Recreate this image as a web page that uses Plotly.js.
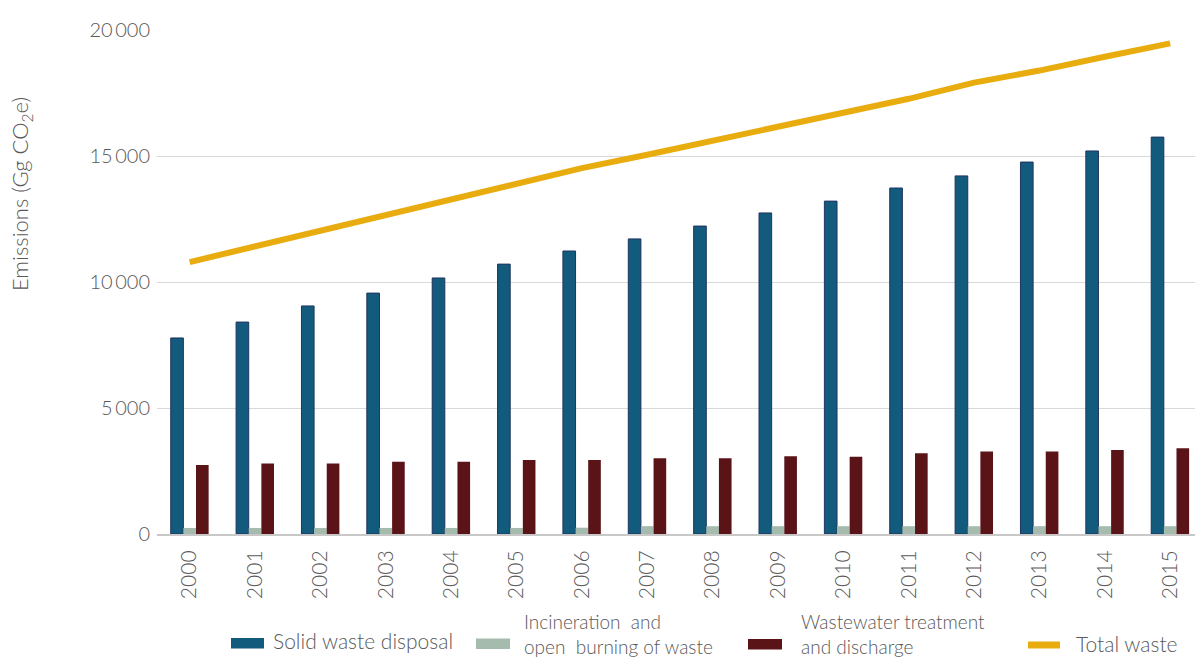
<!DOCTYPE html>
<html>
<head>
<meta charset="utf-8">
<script src="https://cdn.plot.ly/plotly-3.0.1.min.js"></script>
<style>html,body{margin:0;padding:0;background:#fff;}#chart{width:1195px;height:659px;}</style>
</head>
<body>
<div id="chart"></div>
<script>
const years = ["2000","2001","2002","2003","2004","2005","2006","2007","2008","2009","2010","2011","2012","2013","2014","2015"];
const solidWaste = [7780,8410,9050,9560,10160,10710,11230,11710,12220,12740,13210,13730,14210,14760,15200,15750];
const incineration = [240,240,240,240,240,240,250,310,310,310,310,310,310,310,310,310];
const wastewater = [2740,2800,2800,2870,2870,2940,2940,3010,3010,3090,3070,3200,3270,3270,3330,3400];
const totalWaste = [10790,11410,12050,12690,13330,13930,14520,15050,15610,16160,16730,17270,17910,18390,18940,19470];
const yTickVals = [0,5000,10000,15000,20000];
const yTickText = ["0","5\u2009000","10\u2009000","15\u2009000","20\u2009000"];
const seriesNames = ["Solid waste disposal","Incineration and open burning of waste","Wastewater treatment and discharge","Total waste"];
const legendLabels = ["Solid waste disposal","Incineration  and<br>open  burning of waste","Wastewater treatment<br>and discharge","Total waste"];
const colors = ["#135b7c","#a4bbae","#5a1418","#e8ac0f"];

const font = "Lato, 'Open Sans', sans-serif";
const grey = "#595959";
const M = {l:157, r:0, t:30, b:125}, W = 1195, H = 659;
const pw = W - M.l - M.r, ph = H - M.t - M.b;
const px = v => (v - M.l) / pw;
const py = v => (H - M.b - v) / ph;

const traces = [
  {type:"bar", name:seriesNames[0], x:years, y:solidWaste,
   marker:{color:colors[0], line:{color:"#1f3461", width:1}}},
  {type:"bar", name:seriesNames[1], x:years, y:incineration, marker:{color:colors[1]}},
  {type:"bar", name:seriesNames[2], x:years, y:wastewater, marker:{color:colors[2]}},
  {type:"scatter", mode:"lines", name:seriesNames[3], x:years, y:totalWaste,
   line:{color:colors[3], width:6}}
];

// Legend drawn by hand to match the reference layout
const legendSpec = [
  {sx0:231, sx1:264, sy0:638, sy1:648.5, tx:272, ty:640.5, size:21, kind:"rect"},
  {sx0:476, sx1:510, sy0:638.5, sy1:649, tx:523, ty:634, size:19, kind:"rect"},
  {sx0:748, sx1:782, sy0:639, sy1:649.5, tx:800, ty:634, size:19, kind:"rect"},
  {sx0:1025, sx1:1063, sy0:641.5, sy1:648.5, tx:1075, ty:643.5, size:21, kind:"line"}
];
const shapes = [], annotations = [];
legendSpec.forEach((s, i) => {
  if (s.kind === "rect") {
    shapes.push({type:"rect", xref:"paper", yref:"paper", x0:px(s.sx0), x1:px(s.sx1), y0:py(s.sy1), y1:py(s.sy0),
                 fillcolor:colors[i], line:{width:0}, layer:"above"});
  } else {
    shapes.push({type:"line", xref:"paper", yref:"paper", x0:px(s.sx0+3), x1:px(s.sx1-3), y0:py((s.sy0+s.sy1)/2), y1:py((s.sy0+s.sy1)/2),
                 line:{color:colors[i], width:7}, layer:"above"});
  }
  annotations.push({text:legendLabels[i], xref:"paper", yref:"paper", x:px(s.tx), y:py(s.ty), xanchor:"left", yanchor:"middle",
                    align:"left", showarrow:false, borderpad:0, font:{size:s.size, color:grey, weight:300}});
});
annotations.push({text:"Emissions (Gg CO<sub>2</sub>e)", textangle:-90, xref:"paper", yref:"paper",
                  x:px(21), y:py(194), xanchor:"center", yanchor:"middle", showarrow:false,
                  font:{size:22, color:grey, weight:300}});

const layout = {
  width:W, height:H,
  margin:M,
  paper_bgcolor:"#fff", plot_bgcolor:"#fff",
  font:{family:font, color:grey, weight:300},
  barmode:"group", bargap:0.42, bargroupgap:0,
  showlegend:false,
  xaxis:{type:"category", range:[-0.5,15.38], tickangle:-90, ticks:"",
         tickfont:{size:21, color:grey, weight:300}, showgrid:false,
         showline:true, linecolor:"#c8c8c8", linewidth:2, ticklabelstandoff:6,
         fixedrange:true},
  yaxis:{range:[0,20000], tickvals:yTickVals, ticktext:yTickText,
         tickfont:{size:20, color:grey, weight:300}, gridcolor:"#d9d9d9", gridwidth:1,
         zeroline:false, showline:false, ticks:"", ticklabelstandoff:6,
         fixedrange:true},
  shapes:shapes,
  annotations:annotations
};
Plotly.newPlot("chart", traces, layout, {displayModeBar:false, staticPlot:true});
</script>
</body>
</html>
